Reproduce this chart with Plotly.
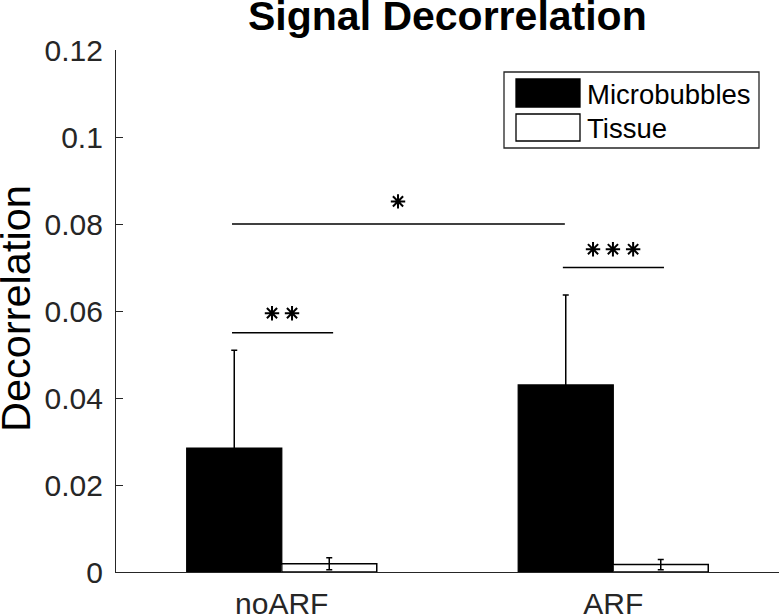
import plotly.graph_objects as go

# ---- data ----
categories = ["noARF", "ARF"]
cat_pos = [1, 2]
mb_mean = [0.0285, 0.0430]
mb_err = [0.0225, 0.0207]
tissue_mean = [0.0019, 0.0017]
tissue_err = [0.0014, 0.0012]

y_ticks = [0, 0.02, 0.04, 0.06, 0.08, 0.1, 0.12]
y_ticklabels = ["0", "0.02", "0.04", "0.06", "0.08", "0.1", "0.12"]

# significance brackets
sig_x0 = [0.850, 0.850, 1.848]
sig_x1 = [1.155, 1.854, 2.153]
sig_y = [0.055, 0.080, 0.070]
star_x = [[0.9706, 1.031], [1.3507], [1.939, 1.999, 2.060]]
star_y = [0.0595, 0.0852, 0.0742]

FONT = "Arial, Liberation Sans, sans-serif"
AX = "#262626"

W, H = 781, 615
# plot area in window pixels: x 116..779, y 50..572
L = 116
R = W - 779
T = 50
B = H - 572
PW, PH = W - L - R, H - T - B


def px(x):  # window x pixel -> paper
    return (x - L) / PW


def py(y):  # window y pixel -> paper
    return (H - B - y) / PH


fig = go.Figure()
fig.add_trace(go.Bar(
    x=cat_pos, y=mb_mean, name="Microbubbles",
    marker=dict(color="black", line=dict(color="black", width=1.3)),
    error_y=dict(type="data", array=mb_err, visible=True, color="black", thickness=1.5, width=3),
    showlegend=False,
))
fig.add_trace(go.Bar(
    x=cat_pos, y=tissue_mean, name="Tissue",
    marker=dict(color="white", line=dict(color="black", width=1.5)),
    error_y=dict(type="data", array=tissue_err, visible=True, color="black", thickness=1.5, width=3),
    showlegend=False,
))

for x0, x1, y, sx, sy in zip(sig_x0, sig_x1, sig_y, star_x, star_y):
    fig.add_trace(go.Scatter(x=[x0, x1], y=[y, y], mode="lines",
                             line=dict(color="black", width=1.5), showlegend=False,
                             hoverinfo="skip"))
    fig.add_trace(go.Scatter(x=sx, y=[sy] * len(sx), mode="markers",
                             marker=dict(symbol="asterisk-open", size=12, color="black",
                                         line=dict(color="black", width=2)),
                             showlegend=False, hoverinfo="skip"))

# ---- custom legend ----
shapes = [
    dict(type="rect", xref="paper", yref="paper", x0=px(504), x1=px(759), y0=py(148), y1=py(72),
         line=dict(color=AX, width=1.3), fillcolor="white", layer="below"),
    dict(type="rect", xref="paper", yref="paper", x0=px(516), x1=px(580), y0=py(107), y1=py(79),
         line=dict(color="black", width=1.3), fillcolor="black"),
    dict(type="rect", xref="paper", yref="paper", x0=px(516), x1=px(580), y0=py(141), y1=py(114),
         line=dict(color="black", width=1.3), fillcolor="white"),
]
annotations = [
    dict(text="Microbubbles", xref="paper", yref="paper", x=px(585), y=py(94), xanchor="left",
         yanchor="middle", showarrow=False, font=dict(family=FONT, size=27.5, color="black")),
    dict(text="Tissue", xref="paper", yref="paper", x=px(585), y=py(128), xanchor="left",
         yanchor="middle", showarrow=False, font=dict(family=FONT, size=27.5, color="black")),
    dict(text="<b>Signal Decorrelation</b>", xref="paper", yref="paper", x=0.5, y=py(16),
         xanchor="center", yanchor="middle", showarrow=False,
         font=dict(family=FONT, size=41, color="black")),
    dict(text="Decorrelation", xref="paper", yref="paper", x=px(15), y=py(309),
         xanchor="center", yanchor="middle", textangle=-90, showarrow=False,
         font=dict(family=FONT, size=41.5, color="black")),
]

fig.update_layout(
    width=W, height=H,
    margin=dict(l=L, r=R, t=T, b=B, pad=0, autoexpand=False),
    paper_bgcolor="white", plot_bgcolor="white",
    barmode="group", bargap=0.4268, bargroupgap=0,
    showlegend=False,
    shapes=shapes, annotations=annotations,
    font=dict(family=FONT, size=30, color=AX),
    xaxis=dict(range=[0.5, 2.5], tickvals=cat_pos, ticktext=categories, automargin=False,
               showline=True, linecolor=AX, linewidth=1.3, ticks="inside", ticklen=7,
               tickcolor=AX, showgrid=False, zeroline=False, ticklabelstandoff=5,
               tickfont=dict(family=FONT, size=30, color=AX)),
    yaxis=dict(range=[0, 0.12], tickvals=y_ticks, ticktext=y_ticklabels, automargin=False,
               showline=True, linecolor=AX, linewidth=1.3, ticks="inside", ticklen=7,
               tickcolor=AX, showgrid=False, zeroline=False, ticklabelstandoff=6,
               tickfont=dict(family=FONT, size=30, color=AX)),
)

fig.write_html("out.html", config={"displayModeBar": False},
               post_script="document.body.style.margin='0px';document.body.style.overflow='hidden';")
